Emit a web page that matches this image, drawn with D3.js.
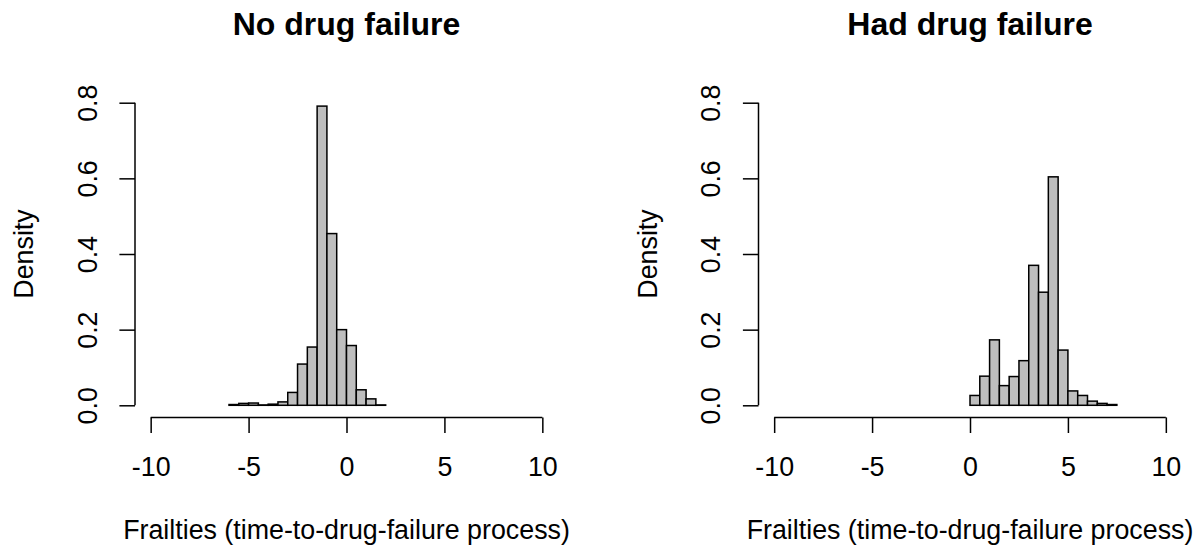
<!DOCTYPE html>
<html>
<head>
<meta charset="utf-8">
<script src="https://cdn.jsdelivr.net/npm/d3@7"></script>
<style>
  html, body { margin: 0; padding: 0; background: #ffffff; }
  svg text { font-family: "Liberation Sans", Arial, Helvetica, sans-serif; fill: #000; }
</style>
</head>
<body>
<svg id="chart" width="1202" height="548"></svg>
<script>
// Histogram bins (width 0.5) and densities for each group
const binWidth = 0.5;

const noFailureStart = -6;
const noFailureDensity = [0.002, 0.005, 0.006, 0.001, 0.003, 0.009, 0.034, 0.109,
                          0.154, 0.791, 0.454, 0.200, 0.158, 0.041, 0.017, 0.001];

const hadFailureStart = 0;
const hadFailureDensity = [0.026, 0.077, 0.173, 0.052, 0.076, 0.118, 0.370, 0.299,
                           0.604, 0.146, 0.038, 0.026, 0.011, 0.005, 0.002];

const xTicks = [-10, -5, 0, 5, 10];
const yTicks = [0.0, 0.2, 0.4, 0.6, 0.8];
const xTickLabels = ["-10", "-5", "0", "5", "10"];
const yTickLabels = ["0.0", "0.2", "0.4", "0.6", "0.8"];

const titles = ["No drug failure", "Had drug failure"];
const xTitle = "Frailties (time-to-drug-failure process)";
const yTitle = "Density";

const panels = [
  { title: titles[0], start: noFailureStart, density: noFailureDensity, left: 135 },
  { title: titles[1], start: hadFailureStart, density: hadFailureDensity, left: 758.5 }
];

const svg = d3.select("#chart");
const plotW = 423;
const plotTop = 90.6, plotBottom = 417.4;
const tickLen = 15.6;
const baseFont = 26.8;
const lw = 1.5;

panels.forEach(p => {
  const x = d3.scaleLinear().domain([-10.8, 10.8]).range([p.left, p.left + plotW]);
  const y = d3.scaleLinear().domain([-0.032, 0.832]).range([plotBottom, plotTop]);
  const g = svg.append("g");

  // bars
  const bins = p.density.map((d, i) => ({ x0: p.start + i * binWidth, x1: p.start + (i + 1) * binWidth, d }));
  g.selectAll("rect.bar").data(bins).enter().append("rect")
    .attr("class", "bar")
    .attr("x", b => x(b.x0))
    .attr("width", b => x(b.x1) - x(b.x0))
    .attr("y", b => y(b.d))
    .attr("height", b => y(0) - y(b.d))
    .attr("fill", "#bebebe")
    .attr("stroke", "#000")
    .attr("stroke-width", lw);

  // x axis
  const xAxis = d3.axisBottom(x).tickValues(xTicks)
    .tickFormat((d, i) => xTickLabels[i]).tickSize(tickLen).tickSizeOuter(0);
  const xg = g.append("g").attr("transform", `translate(0,${plotBottom})`).call(xAxis);
  xg.select(".domain").remove();
  xg.append("line").attr("x1", x(xTicks[0])).attr("x2", x(xTicks[xTicks.length - 1]))
    .attr("stroke", "#000").attr("stroke-width", lw);
  xg.selectAll(".tick line").attr("stroke", "#000").attr("stroke-width", lw);
  xg.selectAll(".tick text")
    .attr("y", 476 - plotBottom).attr("dy", null)
    .attr("font-size", baseFont).attr("fill", "#000")
    .style("font-family", "'Liberation Sans', Arial, Helvetica, sans-serif");

  // y axis
  const yAxis = d3.axisLeft(y).tickValues(yTicks)
    .tickFormat((d, i) => yTickLabels[i]).tickSize(tickLen).tickSizeOuter(0);
  const yg = g.append("g").attr("transform", `translate(${p.left},0)`).call(yAxis);
  yg.select(".domain").remove();
  yg.append("line").attr("y1", y(yTicks[0])).attr("y2", y(yTicks[yTicks.length - 1]))
    .attr("stroke", "#000").attr("stroke-width", lw);
  yg.selectAll(".tick line").attr("stroke", "#000").attr("stroke-width", lw);
  yg.selectAll(".tick text")
    .attr("x", null).attr("dy", null)
    .attr("transform", "translate(-38.3,0) rotate(-90)")
    .attr("text-anchor", "middle")
    .attr("font-size", baseFont).attr("fill", "#000")
    .style("font-family", "'Liberation Sans', Arial, Helvetica, sans-serif");

  const cx = p.left + plotW / 2;
  const cy = (plotTop + plotBottom) / 2;

  // title
  g.append("text").attr("x", cx).attr("y", 35).attr("text-anchor", "middle")
    .attr("font-size", 32).attr("font-weight", "bold").text(p.title);

  // axis titles
  g.append("text").attr("x", cx).attr("y", 539).attr("text-anchor", "middle")
    .attr("font-size", baseFont).text(xTitle);
  g.append("text").attr("transform", `translate(${p.left - 102},${cy}) rotate(-90)`)
    .attr("text-anchor", "middle").attr("font-size", baseFont).text(yTitle);
});
</script>
</body>
</html>
